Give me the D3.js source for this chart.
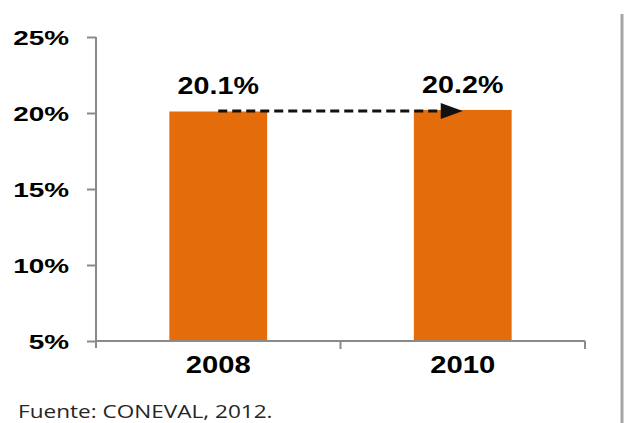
<!DOCTYPE html>
<html>
<head>
<meta charset="utf-8">
<script src="https://cdn.jsdelivr.net/npm/d3@7"></script>
<style>
  body { margin: 0; background: #fff; }
  svg { display: block; }
</style>
</head>
<body>
<div id="chart"></div>
<script>
// data
let years = ["2008", "2010"]
let values = [20.1, 20.2]
let valueLabels = ["20.1%", "20.2%"]
let yTicks = [5, 10, 15, 20, 25]
let source = "Fuente: CONEVAL, 2012."

let width = 627
let height = 423
let plotLeft = 96
let plotRight = 585
let plotTop = 37
let plotBottom = 341
let stretch = 1.27   // the original picture is squeezed sideways

let svg = d3.select('#chart')
  .append('svg')
  .attr('width', width)
  .attr('height', height)

let y = d3.scaleLinear()
  .domain([5, 25])
  .range([plotBottom, plotTop])

let x = d3.scaleBand()
  .domain(years)
  .range([plotLeft, plotRight])
  .paddingInner(0.6)
  .paddingOuter(0.3)

// category borders for the x ticks
let xEdges = d3.scaleBand()
  .domain(years)
  .range([plotLeft, plotRight])

let axisColor = '#8a8a8a'

// bars
svg.append('g')
  .selectAll('rect')
  .data(years)
  .join('rect')
  .attr('x', d => x(d))
  .attr('width', x.bandwidth())
  .attr('y', (d, i) => y(values[i]))
  .attr('height', (d, i) => y(5) - y(values[i]))
  .attr('fill', '#e46c0a')

// y axis
let yAxis = svg.append('g')
  .attr('transform', `translate(${plotLeft},0)`)
  .call(d3.axisLeft(y).tickValues(yTicks).tickSize(9).tickFormat(''))
yAxis.select('.domain').attr('d', `M-0,${plotTop}H0V${plotBottom + 7}`)
yAxis.selectAll('line, .domain').attr('stroke', axisColor).attr('stroke-width', 2)

// y tick labels
svg.append('g')
  .selectAll('text')
  .data(yTicks)
  .join('text')
  .attr('transform', d => `translate(${plotLeft - 27},${y(d)}) scale(${stretch + 0.06},1)`)
  .attr('dy', '0.36em')
  .attr('text-anchor', 'end')
  .style('font-family', 'Liberation Sans, Arial, sans-serif')
  .style('font-weight', 'bold')
  .style('font-size', '21px')
  .text(d => d + '%')

// x axis
let xTickPos = years.map(d => xEdges(d)).concat([plotRight]).slice(1)
let xAxis = svg.append('g')
xAxis.append('line')
  .attr('x1', plotLeft).attr('x2', plotRight)
  .attr('y1', plotBottom).attr('y2', plotBottom)
xAxis.selectAll('.tick')
  .data(xTickPos)
  .join('line')
  .attr('class', 'tick')
  .attr('x1', d => d).attr('x2', d => d)
  .attr('y1', plotBottom).attr('y2', plotBottom + 8)
xAxis.selectAll('line').attr('stroke', axisColor).attr('stroke-width', 2)

// year labels
svg.append('g')
  .selectAll('text')
  .data(years)
  .join('text')
  .attr('transform', d => `translate(${x(d) + x.bandwidth() / 2},${plotBottom + 32}) scale(${stretch},1)`)
  .attr('text-anchor', 'middle')
  .style('font-family', 'Liberation Sans, Arial, sans-serif')
  .style('font-weight', 'bold')
  .style('font-size', '23px')
  .text(d => d)

// value labels
svg.append('g')
  .selectAll('text')
  .data(years)
  .join('text')
  .attr('transform', (d, i) => `translate(${x(d) + x.bandwidth() / 2},${y(values[i]) - 17}) scale(${stretch - 0.05},1)`)
  .attr('text-anchor', 'middle')
  .style('font-family', 'Liberation Sans, Arial, sans-serif')
  .style('font-weight', 'bold')
  .style('font-size', '23.5px')
  .text((d, i) => valueLabels[i])

// dashed arrow from the first bar to the second
let ax1 = x(years[0]) + x.bandwidth() / 2
let ax2 = x(years[1]) + x.bandwidth() / 2
let ay = y(values[0]) - 0.5
svg.append('line')
  .attr('x1', ax1).attr('x2', ax2 - 20)
  .attr('y1', ay).attr('y2', ay)
  .attr('stroke', '#111')
  .attr('stroke-width', 3)
  .attr('stroke-dasharray', '9,5')
svg.append('path')
  .attr('d', `M${ax2},${ay} L${ax2 - 22},${ay - 8} L${ax2 - 22},${ay + 8} Z`)
  .attr('fill', '#111')

// source note
svg.append('text')
  .attr('transform', `translate(18,418) scale(${stretch + 0.02},1)`)
  .style('font-family', 'Open Sans, sans-serif')
  .style('font-size', '17.5px')
  .attr('fill', '#262626')
  .text(source)

// grey rule on the right edge
svg.append('line')
  .attr('x1', 622).attr('x2', 622)
  .attr('y1', 14).attr('y2', height)
  .attr('stroke', '#a6a6a6')
  .attr('stroke-width', 3)
</script>
</body>
</html>
